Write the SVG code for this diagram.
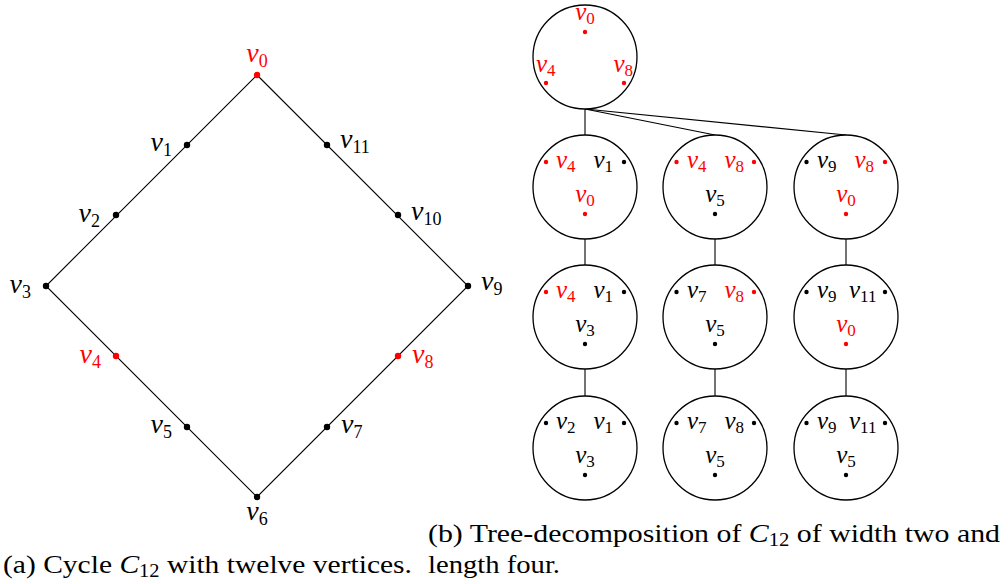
<svg xmlns="http://www.w3.org/2000/svg" width="1008" height="584" viewBox="0 0 1008 584">
<style>
text{font-family:"Liberation Serif","Times New Roman",serif;fill:#000}
.r{fill:#ff0000}
.L{font-size:28px;font-style:italic}
.L .s{font-size:18px;font-style:normal}
.T{font-size:25px;font-style:italic}
.T .s{font-size:17px;font-style:normal}
.cap{font-size:26px}
.cap .i{font-style:italic}
.cap .s{font-size:18px}
.edge{stroke:#000;stroke-width:1.1;fill:none}
.bag{stroke:#000;stroke-width:1.3;fill:#fff}
.dk{fill:#000}
.dr{fill:#ff0000}
</style>
<g id="connectors">
<polyline class="edge" points="257,75 46,286 257,497 468,286 257,75"/>
<line class="edge" x1="585" y1="109" x2="585" y2="135"/>
<line class="edge" x1="585" y1="109" x2="715" y2="135"/>
<line class="edge" x1="585" y1="109" x2="846" y2="135"/>
<line class="edge" x1="585" y1="239" x2="585" y2="265"/>
<line class="edge" x1="715" y1="239" x2="715" y2="265"/>
<line class="edge" x1="846" y1="239" x2="846" y2="265"/>
<line class="edge" x1="585" y1="369" x2="585" y2="396"/>
<line class="edge" x1="715" y1="369" x2="715" y2="396"/>
<line class="edge" x1="846" y1="369" x2="846" y2="396"/>
</g>
<g id="cycle">
<g id="cv0"><circle class="dr" cx="257" cy="75" r="3.2"/><text class="L r" x="257" y="62" text-anchor="middle">v<tspan class="s" dy="5">0</tspan></text></g>
<g id="cv1"><circle class="dk" cx="187" cy="145" r="3.2"/><text class="L" x="172" y="151" text-anchor="end">v<tspan class="s" dy="5">1</tspan></text></g>
<g id="cv2"><circle class="dk" cx="116" cy="215" r="3.2"/><text class="L" x="100" y="222" text-anchor="end">v<tspan class="s" dy="5">2</tspan></text></g>
<g id="cv3"><circle class="dk" cx="46" cy="286" r="3.2"/><text class="L" x="31" y="293" text-anchor="end">v<tspan class="s" dy="5">3</tspan></text></g>
<g id="cv4"><circle class="dr" cx="116" cy="356" r="3.2"/><text class="L r" x="101" y="363" text-anchor="end">v<tspan class="s" dy="5">4</tspan></text></g>
<g id="cv5"><circle class="dk" cx="187" cy="427" r="3.2"/><text class="L" x="172" y="433" text-anchor="end">v<tspan class="s" dy="5">5</tspan></text></g>
<g id="cv6"><circle class="dk" cx="257" cy="497" r="3.2"/><text class="L" x="257" y="520" text-anchor="middle">v<tspan class="s" dy="5">6</tspan></text></g>
<g id="cv7"><circle class="dk" cx="327" cy="427" r="3.2"/><text class="L" x="341" y="433">v<tspan class="s" dy="5">7</tspan></text></g>
<g id="cv8"><circle class="dr" cx="398" cy="356" r="3.2"/><text class="L r" x="412" y="363">v<tspan class="s" dy="5">8</tspan></text></g>
<g id="cv9"><circle class="dk" cx="468" cy="286" r="3.2"/><text class="L" x="481" y="290">v<tspan class="s" dy="5">9</tspan></text></g>
<g id="cv10"><circle class="dk" cx="398" cy="215" r="3.2"/><text class="L" x="411" y="220">v<tspan class="s" dy="5">10</tspan></text></g>
<g id="cv11"><circle class="dk" cx="327" cy="145" r="3.2"/><text class="L" x="340" y="148">v<tspan class="s" dy="5">11</tspan></text></g>
</g>
<g id="bag0">
<circle class="bag" cx="585" cy="57" r="52"/>
<circle class="dr" cx="585" cy="32" r="2.2"/><text class="T r" x="585" y="20" text-anchor="middle">v<tspan class="s" dy="4">0</tspan></text>
<circle class="dr" cx="546" cy="83" r="2.2"/><text class="T r" x="536" y="72">v<tspan class="s" dy="4">4</tspan></text>
<circle class="dr" cx="624" cy="83" r="2.2"/><text class="T r" x="633" y="72" text-anchor="end">v<tspan class="s" dy="4">8</tspan></text>
</g>
<g id="bag11">
<circle class="bag" cx="585" cy="187" r="52"/>
<circle class="dr" cx="546" cy="162" r="2.2"/><text class="T r" x="556" y="168">v<tspan class="s" dy="4">4</tspan></text>
<circle class="dk" cx="624" cy="162" r="2.2"/><text class="T" x="613" y="168" text-anchor="end">v<tspan class="s" dy="4">1</tspan></text>
<circle class="dr" cx="585" cy="214" r="2.2"/><text class="T r" x="585" y="202" text-anchor="middle">v<tspan class="s" dy="4">0</tspan></text>
</g>
<g id="bag12">
<circle class="bag" cx="715" cy="187" r="52"/>
<circle class="dr" cx="676.5" cy="162" r="2.2"/><text class="T r" x="687" y="168">v<tspan class="s" dy="4">4</tspan></text>
<circle class="dr" cx="754" cy="162" r="2.2"/><text class="T r" x="744" y="168" text-anchor="end">v<tspan class="s" dy="4">8</tspan></text>
<circle class="dk" cx="715" cy="214" r="2.2"/><text class="T" x="715" y="202" text-anchor="middle">v<tspan class="s" dy="4">5</tspan></text>
</g>
<g id="bag13">
<circle class="bag" cx="846" cy="187" r="52"/>
<circle class="dk" cx="806.5" cy="162" r="2.2"/><text class="T" x="817" y="168">v<tspan class="s" dy="4">9</tspan></text>
<circle class="dr" cx="885" cy="162" r="2.2"/><text class="T r" x="874" y="168" text-anchor="end">v<tspan class="s" dy="4">8</tspan></text>
<circle class="dr" cx="846" cy="214" r="2.2"/><text class="T r" x="846" y="202" text-anchor="middle">v<tspan class="s" dy="4">0</tspan></text>
</g>
<g id="bag21">
<circle class="bag" cx="585" cy="317" r="52"/>
<circle class="dr" cx="546" cy="292" r="2.2"/><text class="T r" x="556" y="298">v<tspan class="s" dy="4">4</tspan></text>
<circle class="dk" cx="624" cy="292" r="2.2"/><text class="T" x="613" y="298" text-anchor="end">v<tspan class="s" dy="4">1</tspan></text>
<circle class="dk" cx="585" cy="344" r="2.2"/><text class="T" x="585" y="332" text-anchor="middle">v<tspan class="s" dy="4">3</tspan></text>
</g>
<g id="bag22">
<circle class="bag" cx="715" cy="317" r="52"/>
<circle class="dk" cx="676.5" cy="292" r="2.2"/><text class="T" x="687" y="298">v<tspan class="s" dy="4">7</tspan></text>
<circle class="dr" cx="754" cy="292" r="2.2"/><text class="T r" x="744" y="298" text-anchor="end">v<tspan class="s" dy="4">8</tspan></text>
<circle class="dk" cx="715" cy="344" r="2.2"/><text class="T" x="715" y="332" text-anchor="middle">v<tspan class="s" dy="4">5</tspan></text>
</g>
<g id="bag23">
<circle class="bag" cx="846" cy="317" r="52"/>
<circle class="dk" cx="806.5" cy="292" r="2.2"/><text class="T" x="817" y="298">v<tspan class="s" dy="4">9</tspan></text>
<circle class="dk" cx="885" cy="292" r="2.2"/><text class="T" x="849" y="298">v<tspan class="s" dy="4">11</tspan></text>
<circle class="dr" cx="846" cy="344" r="2.2"/><text class="T r" x="846" y="332" text-anchor="middle">v<tspan class="s" dy="4">0</tspan></text>
</g>
<g id="bag31">
<circle class="bag" cx="585" cy="448" r="52"/>
<circle class="dk" cx="546" cy="423" r="2.2"/><text class="T" x="556" y="429">v<tspan class="s" dy="4">2</tspan></text>
<circle class="dk" cx="624" cy="423" r="2.2"/><text class="T" x="613" y="429" text-anchor="end">v<tspan class="s" dy="4">1</tspan></text>
<circle class="dk" cx="585" cy="475" r="2.2"/><text class="T" x="585" y="463" text-anchor="middle">v<tspan class="s" dy="4">3</tspan></text>
</g>
<g id="bag32">
<circle class="bag" cx="715" cy="448" r="52"/>
<circle class="dk" cx="676.5" cy="423" r="2.2"/><text class="T" x="687" y="429">v<tspan class="s" dy="4">7</tspan></text>
<circle class="dk" cx="754" cy="423" r="2.2"/><text class="T" x="744" y="429" text-anchor="end">v<tspan class="s" dy="4">8</tspan></text>
<circle class="dk" cx="715" cy="475" r="2.2"/><text class="T" x="715" y="463" text-anchor="middle">v<tspan class="s" dy="4">5</tspan></text>
</g>
<g id="bag33">
<circle class="bag" cx="846" cy="448" r="52"/>
<circle class="dk" cx="806.5" cy="423" r="2.2"/><text class="T" x="817" y="429">v<tspan class="s" dy="4">9</tspan></text>
<circle class="dk" cx="885" cy="423" r="2.2"/><text class="T" x="849" y="429">v<tspan class="s" dy="4">11</tspan></text>
<circle class="dk" cx="846" cy="475" r="2.2"/><text class="T" x="846" y="463" text-anchor="middle">v<tspan class="s" dy="4">5</tspan></text>
</g>
<g id="captions">
<text class="cap" x="3" y="573" textLength="409" lengthAdjust="spacingAndGlyphs">(a) Cycle <tspan class="i">C</tspan><tspan class="s" dy="4">12</tspan><tspan dy="-4"> with twelve vertices.</tspan></text>
<text class="cap" x="428" y="542" textLength="572" lengthAdjust="spacingAndGlyphs">(b) Tree-decomposition of <tspan class="i">C</tspan><tspan class="s" dy="4">12</tspan><tspan dy="-4"> of width two and</tspan></text>
<text class="cap" x="428" y="573" textLength="132" lengthAdjust="spacingAndGlyphs">length four.</text>
</g>
</svg>
